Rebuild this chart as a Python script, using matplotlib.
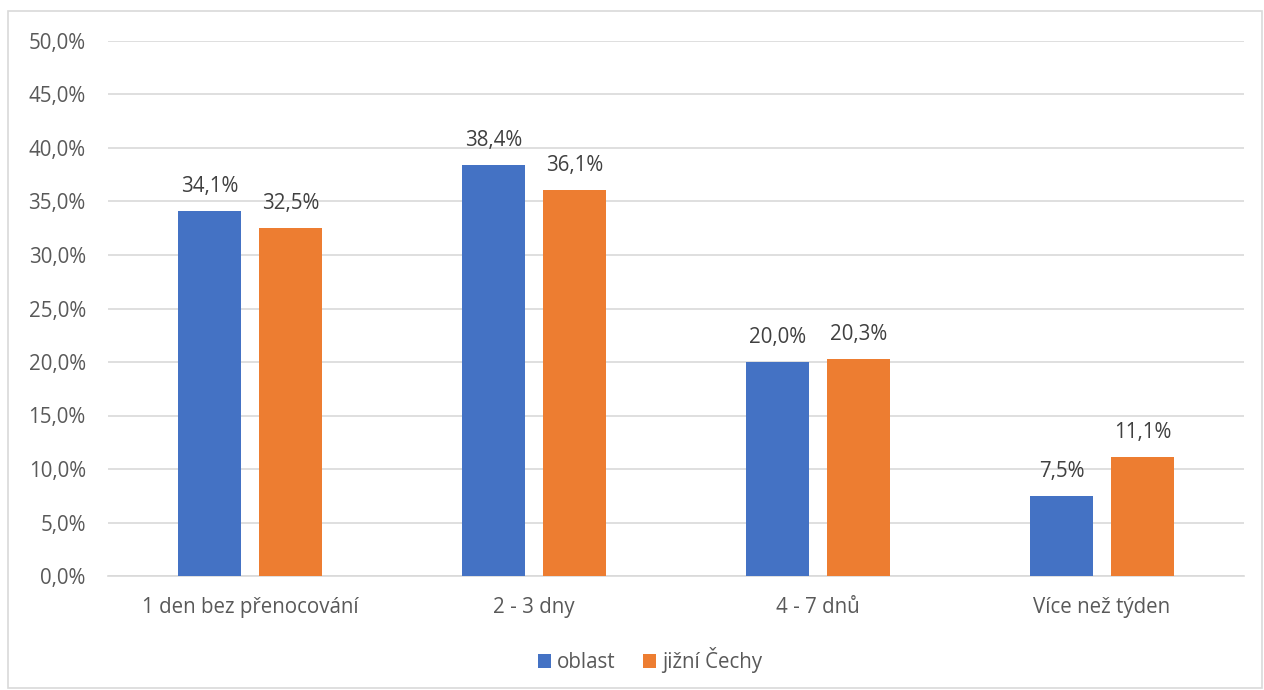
import numpy as np
import matplotlib.pyplot as plt
from matplotlib.patches import Rectangle

categories = ['1 den bez přenocování', '2 - 3 dny', '4 - 7 dnů', 'Více než týden']
oblast = [34.1, 38.4, 20.0, 7.5]
jizni_cechy = [32.5, 36.1, 20.3, 11.1]
series_names = ['oblast', 'jižní Čechy']

plt.rcParams['font.family'] = ['Open Sans', 'DejaVu Sans']
txt = '#595959'
fs = 14.8

fig = plt.figure(figsize=(12.64, 6.9), dpi=100)
ax = fig.add_axes([108 / 1264, 1 - 576 / 690, 1136 / 1264, 535 / 690])

# chart border
fig.patches.append(Rectangle((8 / 1264, 2 / 690), 1254 / 1264, 677 / 690,
                             transform=fig.transFigure, fill=False,
                             edgecolor='#d9d9d9', linewidth=1.2))

x = np.arange(len(categories))
w = 0.222
off = 0.142
b1 = ax.bar(x - off, oblast, w, color='#4472c4', label=series_names[0], zorder=3)
b2 = ax.bar(x + off, jizni_cechy, w, color='#ed7d31', label=series_names[1], zorder=3)

def fmt(v):
    return f'{v:.1f}%'.replace('.', ',')

for bars, vals in [(b1, oblast), (b2, jizni_cechy)]:
    for r, v in zip(bars, vals):
        ax.text(r.get_x() + r.get_width() / 2, v + 1.3, fmt(v), ha='center',
                va='bottom', fontsize=fs, color='#404040')

ax.set_xlim(-0.5, 3.5)
ax.set_ylim(0, 50)
ticks = np.arange(0, 55, 5)
ax.set_yticks(ticks)
ax.set_yticklabels([fmt(t) for t in ticks])
ax.set_xticks(x)
ax.set_xticklabels(categories)
ax.grid(axis='y', color='#d9d9d9', linewidth=1.2, zorder=0)
for s in ['top', 'right', 'left']:
    ax.spines[s].set_visible(False)
ax.spines['bottom'].set_color('#d9d9d9')
ax.spines['bottom'].set_linewidth(1.2)
ax.tick_params(axis='both', length=0, labelsize=fs, colors=txt)
ax.tick_params(axis='y', pad=16)
ax.tick_params(axis='x', pad=15)

fig.legend(handles=[b1, b2], loc='center', bbox_to_anchor=(650 / 1264, 1 - 660 / 690),
           ncol=2, frameon=False, fontsize=fs, labelcolor=txt,
           handlelength=0.65, handleheight=0.65, handletextpad=0.3, columnspacing=1.3)

fig.savefig('out.png', dpi=100)
